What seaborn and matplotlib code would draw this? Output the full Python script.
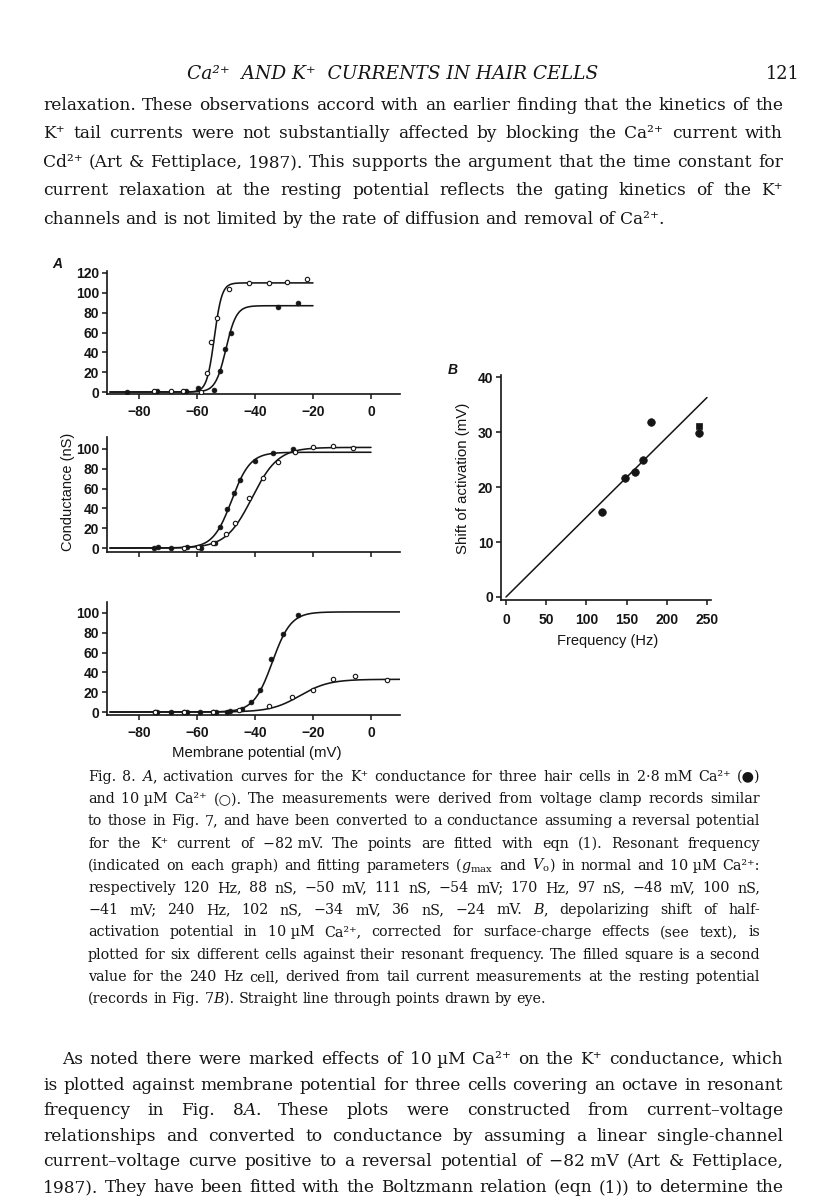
import numpy as np
import pandas as pd
import matplotlib
matplotlib.use("Agg")
import matplotlib.pyplot as plt
import seaborn as sns

# ---------------- data ----------------
# Panel A, top (120 Hz cell)
a1_open_v = [-74.8, -69.0, -64.7, -58.7, -56.4, -55.2, -53.2, -49.1, -42.0, -35.1, -29.1, -22.2]
a1_open_g = [1.4, 1.4, 1.4, 0.3, 18.8, 50.8, 75.0, 104.0, 109.4, 109.4, 111.0, 114.0]
a1_fill_v = [-84.2, -73.6, -63.9, -59.7, -54.1, -52.1, -50.3, -48.2, -32.2, -25.1]
a1_fill_g = [0.0, 0.7, 0.7, 4.0, 2.4, 20.8, 43.3, 60.0, 85.6, 89.3]
# Panel A, middle (170 Hz cell)
a2_fill_v = [-74.8, -73.4, -69.0, -63.5, -58.7, -53.7, -52.0, -49.8, -47.1, -45.1, -40.0, -33.9, -27.0]
a2_fill_g = [0.0, 1.0, 0.0, 1.3, 0.3, 5.4, 21.2, 39.4, 55.6, 69.0, 87.5, 96.0, 100.0]
a2_open_v = [-64.4, -59.5, -54.4, -50.0, -47.0, -42.0, -37.2, -32.0, -26.1, -19.9, -13.0, -6.1]
a2_open_g = [0.0, 0.7, 5.4, 14.0, 25.0, 50.0, 70.7, 86.5, 96.6, 102.0, 102.7, 100.7]
# Panel A, bottom (240 Hz cell)
a3_fill_v = [-74.5, -73.7, -69.0, -64.4, -63.5, -58.9, -54.3, -53.5, -49.5, -48.6, -44.6, -41.2, -38.2, -34.3, -30.3, -25.3]
a3_fill_g = [0.0, 0.0, 0.0, 0.0, 0.0, 0.0, 0.0, 0.0, 0.0, 1.0, 3.4, 10.0, 22.7, 53.2, 78.6, 97.6]
a3_open_v = [-74.5, -64.4, -54.3, -45.5, -35.3, -27.3, -20.1, -13.2, -5.4, 5.5]
a3_open_g = [0.0, 0.0, 0.0, 1.7, 6.0, 15.3, 22.0, 33.6, 35.9, 32.2]

# Boltzmann fits (eqn 1) drawn in each graph: 2.8 mM Ca (filled) and 10 uM Ca (open)
fit_gmax_filled = [87.0, 96.6, 101.0]
fit_v0_filled = [-50.0, -48.0, -34.0]
fit_k_filled = [1.8, 3.2, 3.2]
fit_gmax_open = [110.0, 101.5, 33.0]
fit_v0_open = [-54.0, -41.0, -24.5]
fit_k_open = [1.3, 4.5, 5.0]
fit_v_start = -90.0
fit_v_end = [-20.0, 0.0, 10.0]

a_xticks = [-80, -60, -40, -20, 0]
a_yticks = [[0, 20, 40, 60, 80, 100, 120], [0, 20, 40, 60, 80, 100], [0, 20, 40, 60, 80, 100]]

# Panel B
b_freq = [120, 148, 160, 170, 180, 240]
b_shift = [15.5, 21.6, 22.8, 25.0, 31.9, 29.9]
b_sq_freq = [240]
b_sq_shift = [31.2]
b_line_freq = [0, 250]
b_line_shift = [0, 36.3]
b_xticks = [0, 50, 100, 150, 200, 250]
b_yticks = [0, 10, 20, 30, 40]

# ---------------- page text ----------------
header_text = "Ca²⁺  AND K⁺  CURRENTS IN HAIR CELLS"
page_number = "121"
body_lines = [
    "relaxation. These observations accord with an earlier finding that the kinetics of the",
    "K⁺ tail currents were not substantially affected by blocking the Ca²⁺ current with",
    "Cd²⁺ (Art & Fettiplace, 1987). This supports the argument that the time constant for",
    "current relaxation at the resting potential reflects the gating kinetics of the K⁺",
    "channels and is not limited by the rate of diffusion and removal of Ca²⁺.",
]
caption_lines = [
    "Fig. 8. {A}, activation curves for the K⁺ conductance for three hair cells in 2·8\u00a0mM Ca²⁺ (●)",
    "and 10\u00a0µM Ca²⁺ (○). The measurements were derived from voltage clamp records similar",
    "to those in Fig. 7, and have been converted to a conductance assuming a reversal potential",
    "for the K⁺ current of −82\u00a0mV. The points are fitted with eqn (1). Resonant frequency",
    "(indicated on each graph) and fitting parameters ($g_{\\mathrm{max}}$ and $V_{\\mathrm{o}}$) in normal and 10\u00a0µM Ca²⁺:",
    "respectively 120 Hz, 88 nS, −50 mV, 111 nS, −54 mV; 170 Hz, 97 nS, −48 mV, 100 nS,",
    "−41 mV; 240 Hz, 102 nS, −34 mV, 36 nS, −24 mV. {B}, depolarizing shift of half-",
    "activation potential in 10\u00a0µM Ca²⁺, corrected for surface-charge effects (see text), is",
    "plotted for six different cells against their resonant frequency. The filled square is a second",
    "value for the 240 Hz cell, derived from tail current measurements at the resting potential",
    "(records in Fig. 7{B}). Straight line through points drawn by eye.",
]
bottom_lines = [
    "As noted there were marked effects of 10\u00a0µM Ca²⁺ on the K⁺ conductance, which",
    "is plotted against membrane potential for three cells covering an octave in resonant",
    "frequency in Fig. 8{A}. These plots were constructed from current–voltage",
    "relationships and converted to conductance by assuming a linear single-channel",
    "current–voltage curve positive to a reversal potential of −82\u00a0mV (Art & Fettiplace,",
    "1987). They have been fitted with the Boltzmann relation (eqn (1)) to determine the",
]

# ---------------- setup ----------------
W, H = 816, 1200
sns.set_theme(style="ticks")
plt.rcParams['font.family'] = ['Liberation Sans', 'DejaVu Sans']
plt.rcParams['mathtext.fontset'] = 'dejavuserif'
plt.rcParams['axes.unicode_minus'] = True

fig = plt.figure(figsize=(W / 100, H / 100), dpi=100)
fig.patch.set_facecolor('white')
INK = '#151515'


def px_axes(l, t, r, b):
    return fig.add_axes([l / W, 1 - b / H, (r - l) / W, (b - t) / H])


def style_ax(ax, xt, yt, xlabels=True, xpad=5):
    sns.despine(ax=ax)
    for s in ['left', 'bottom']:
        ax.spines[s].set_linewidth(1.2)
        ax.spines[s].set_color(INK)
    ax.set_facecolor('none')
    ax.set_xticks(xt)
    ax.set_yticks(yt)
    ax.tick_params(direction='out', length=3.5, width=1.1, color=INK, labelcolor=INK,
                   labelsize=10)
    ax.tick_params(axis='y', pad=2)
    ax.tick_params(axis='x', pad=xpad)
    if not xlabels:
        ax.set_xticklabels([])
    ax.set_xlabel('')
    ax.set_ylabel('')
    for lab in ax.get_xticklabels() + ax.get_yticklabels():
        lab.set_fontweight('bold')


def boltz(v, gmax, v0, k):
    return gmax / (1.0 + np.exp((v0 - v) / k))


panels = [
    dict(box=(107, 271, 400, 394), ylim=(-2, 122), ov=a1_open_v, og=a1_open_g, fv=a1_fill_v, fg=a1_fill_g, xl=True),
    dict(box=(107, 437, 400, 552), ylim=(-4, 112), ov=a2_open_v, og=a2_open_g, fv=a2_fill_v, fg=a2_fill_g, xl=False),
    dict(box=(107, 602, 400, 715), ylim=(-3, 111), ov=a3_open_v, og=a3_open_g, fv=a3_fill_v, fg=a3_fill_g, xl=True),
]

for i, p in enumerate(panels):
    ax = px_axes(*p['box'])
    v = np.linspace(fit_v_start, fit_v_end[i], 400)
    curves = pd.DataFrame({
        'v': np.concatenate([v, v]),
        'g': np.concatenate([boltz(v, fit_gmax_filled[i], fit_v0_filled[i], fit_k_filled[i]),
                             boltz(v, fit_gmax_open[i], fit_v0_open[i], fit_k_open[i])]),
        'cond': ['filled'] * len(v) + ['open'] * len(v),
    })
    sns.lineplot(data=curves, x='v', y='g', units='cond', estimator=None, color=INK,
                 linewidth=1.15, ax=ax, zorder=2)
    sns.scatterplot(x=p['fv'], y=p['fg'], ax=ax, marker='o', s=12, color=INK,
                    edgecolor=INK, linewidth=0.5, zorder=3)
    sns.scatterplot(x=p['ov'], y=p['og'], ax=ax, marker='o', s=10, color='white',
                    edgecolor=INK, linewidth=0.8, zorder=4)
    ax.set_xlim(-91, 10)
    ax.set_ylim(*p['ylim'])
    style_ax(ax, a_xticks, a_yticks[i], xlabels=p['xl'], xpad=4.5)

# Panel B
axb = px_axes(501, 375, 711, 600)
sns.lineplot(x=b_line_freq, y=b_line_shift, ax=axb, color=INK, linewidth=1.1, zorder=2)
sns.scatterplot(x=b_freq, y=b_shift, ax=axb, marker='o', s=30, color=INK, edgecolor=INK,
                linewidth=0.5, zorder=3)
sns.scatterplot(x=b_sq_freq, y=b_sq_shift, ax=axb, marker='s', s=18, color=INK, edgecolor=INK,
                linewidth=0.5, zorder=3)
axb.set_xlim(-6.2, 255)
axb.set_ylim(-0.55, 40.4)
style_ax(axb, b_xticks, b_yticks, xlabels=True, xpad=5.5)

# figure labels
SANS = ['Liberation Sans', 'DejaVu Sans']
fig.text(68 / W, 1 - 492 / H, "Conductance (nS)", rotation=90, ha='center', va='center',
         fontsize=10.5, family=SANS, color=INK)
fig.text(257 / W, 1 - 753 / H, "Membrane potential (mV)", ha='center', va='center',
         fontsize=10.8, family=SANS, color=INK)
fig.text(463 / W, 1 - 478 / H, "Shift of activation (mV)", rotation=90, ha='center', va='center',
         fontsize=10.8, family=SANS, color=INK)
fig.text(608 / W, 1 - 641 / H, "Frequency (Hz)", ha='center', va='center',
         fontsize=10.5, family=SANS, color=INK)
fig.text(57 / W, 1 - 264 / H, "A", ha='center', va='center', fontsize=10, style='italic',
         fontweight='bold', family=SANS, color=INK)
fig.text(453 / W, 1 - 370 / H, "B", ha='center', va='center', fontsize=10, style='italic',
         fontweight='bold', family=SANS, color=INK)

# ---------------- justified page text ----------------
SERIF = ['DejaVu Serif', 'DejaVu Sans']


def parse(word):
    segs, buf, i = [], '', 0
    while i < len(word):
        c = word[i]
        if c == '$':
            j = word.index('$', i + 1)
            if buf:
                segs.append((buf, 'n'))
                buf = ''
            segs.append((word[i:j + 1], 'm'))
            i = j + 1
        elif c == '{':
            j = word.index('}', i + 1)
            if buf:
                segs.append((buf, 'n'))
                buf = ''
            segs.append((word[i + 1:j], 'i'))
            i = j + 1
        else:
            buf += c
            i += 1
    if buf:
        segs.append((buf, 'n'))
    return segs


def make_seg(s, kind, size):
    return fig.text(0, 0, s, fontsize=size, family=SERIF,
                    style='italic' if kind == 'i' else 'normal',
                    ha='left', va='baseline', color=INK)


R = fig.canvas.get_renderer()


def space_w(size):
    t1 = make_seg('n n', 'n', size)
    t2 = make_seg('nn', 'n', size)
    w = t1.get_window_extent(R).width - t2.get_window_extent(R).width
    t1.remove()
    t2.remove()
    return w


def build(lines, size):
    rows = []
    for line in lines:
        words = []
        for w in line.split(' '):
            segs = []
            for s, k in parse(w):
                t = make_seg(s, k, size)
                segs.append((t, t.get_window_extent(R).width))
            words.append(segs)
        rows.append(words)
    return rows


def block(lines, x0, x1, y0, dy, indent0=0, justify_last=False, fill=0.985):
    base = 10.0
    rows = build(lines, base)
    sp = space_w(base)
    ratios = []
    for li, words in enumerate(rows):
        tot = sum(w for segs in words for _, w in segs) + sp * (len(words) - 1)
        avail = x1 - x0 - (indent0 if li == 0 else 0)
        if li < len(lines) - 1 or justify_last:
            ratios.append(tot / avail)
        for segs in words:
            for t, _ in segs:
                t.remove()
    size = base / max(ratios) * fill
    rows = build(lines, size)
    sp = space_w(size)
    for li, words in enumerate(rows):
        xs = x0 + (indent0 if li == 0 else 0)
        tot = sum(w for segs in words for _, w in segs)
        if (li < len(lines) - 1 or justify_last) and len(words) > 1:
            gap = (x1 - xs - tot) / (len(words) - 1)
        else:
            gap = sp
        y = y0 + li * dy
        x = xs
        for segs in words:
            for t, w in segs:
                t.set_position((x / W, 1 - y / H))
                x += w
            x += gap
    return size


body_size = block(body_lines, 43, 783, 110, 28.5)
block(caption_lines, 88, 760, 781, 22.2)
block(bottom_lines, 43, 783, 1064, 25.6, indent0=19, justify_last=True)

fig.text(393 / W, 1 - 79 / H, header_text, ha='center', va='baseline', fontsize=body_size * 1.1,
         style='italic', family=SERIF, color=INK)
fig.text(800 / W, 1 - 79 / H, page_number, ha='right', va='baseline', fontsize=body_size * 1.05,
         family=SERIF, color=INK)

fig.savefig("out.png", dpi=100, facecolor='white')
